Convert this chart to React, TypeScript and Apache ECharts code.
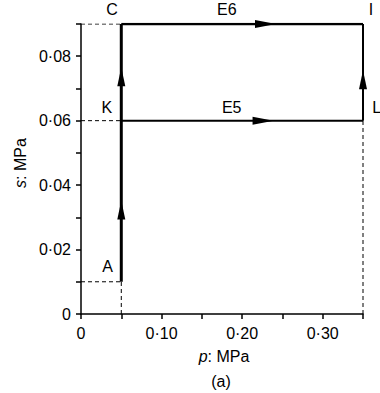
import React, { useEffect, useRef } from "react";
import * as echarts from "echarts";

// Path segments (p, s) in MPa
const pathAC = [[0.05, 0.01], [0.05, 0.09]];
const pathE5 = [[0.05, 0.06], [0.35, 0.06]];
const pathE6 = [[0.05, 0.09], [0.35, 0.09]];
const pathLI = [[0.35, 0.06], [0.35, 0.09]];

// Dashed guide lines
const dashedSegments = [
  [[0, 0.09], [0.05, 0.09]],
  [[0, 0.06], [0.05, 0.06]],
  [[0, 0.01], [0.05, 0.01]],
  [[0.05, 0], [0.05, 0.01]],
  [[0.35, 0], [0.35, 0.06]],
];

// Arrow heads
const arrowsUp = [[0.05, 0.0323], [0.05, 0.0736], [0.35, 0.0727]];
const arrowsRight = [[0.229, 0.09], [0.226, 0.06]];

// Point labels
const pointLabels = [
  { name: "C", value: [0.0385, 0.0945] },
  { name: "K", value: [0.032, 0.0641] },
  { name: "A", value: [0.033, 0.0146] },
  { name: "E6", value: [0.181, 0.0945] },
  { name: "E5", value: [0.187, 0.0641] },
  { name: "I", value: [0.36, 0.0945] },
  { name: "L", value: [0.367, 0.0641] },
];

const FONT = "'Liberation Sans', Arial, Helvetica, sans-serif";
const INK = "#000";

const fmt = (v: number) => {
  if (Math.abs(v) < 1e-9) return "0";
  return v.toFixed(2).replace(".", "·");
};

export default function App() {
  const ref = useRef<HTMLDivElement>(null);
  useEffect(() => {
    if (!ref.current) return;
    const chart = echarts.init(ref.current, null, { renderer: "svg" });
    const solid = (data: number[][], width: number) => ({
      type: "line",
      data,
      symbol: "none",
      lineStyle: { color: INK, width, type: "solid" },
      silent: true,
      z: 3,
    });
    chart.setOption({
      animation: false,
      backgroundColor: "#fff",
      grid: { left: 81, right: 17, top: 24, bottom: 79 },
      xAxis: {
        type: "value",
        min: 0,
        max: 0.35,
        interval: 0.05,
        splitLine: { show: false },
        axisLine: { show: true, lineStyle: { color: INK, width: 1.5 } },
        axisTick: { show: true, length: 5, lineStyle: { color: INK, width: 1.5 } },
        axisLabel: {
          margin: 11,
          fontFamily: FONT,
          fontSize: 16,
          color: INK,
          formatter: (v: number) => {
            const k = Math.round(v * 100);
            return k % 10 === 0 && k <= 30 ? fmt(v) : "";
          },
        },
      },
      yAxis: {
        type: "value",
        min: 0,
        max: 0.09,
        interval: 0.01,
        splitLine: { show: false },
        axisLine: { show: true, lineStyle: { color: INK, width: 1.5 } },
        axisTick: { show: true, length: 5, lineStyle: { color: INK, width: 1.5 } },
        axisLabel: {
          margin: 10,
          fontFamily: FONT,
          fontSize: 16,
          color: INK,
          formatter: (v: number) => {
            const k = Math.round(v * 100);
            return k % 2 === 0 && k <= 8 ? fmt(v) : "";
          },
        },
      },
      series: [
        ...dashedSegments.map((seg) => ({
          type: "line",
          data: seg,
          symbol: "none",
          silent: true,
          lineStyle: { color: INK, width: 1, type: [4, 3] },
          z: 2,
        })),
        solid(pathAC, 3),
        solid(pathE5, 2),
        solid(pathE6, 2.5),
        solid(pathLI, 2),
        {
          type: "scatter",
          data: arrowsUp,
          symbol: "triangle",
          symbolSize: [8, 19],
          itemStyle: { color: INK, opacity: 1 },
          silent: true,
          z: 4,
        },
        {
          type: "scatter",
          data: arrowsRight,
          symbol: "triangle",
          symbolSize: [8, 21],
          symbolRotate: -90,
          itemStyle: { color: INK, opacity: 1 },
          silent: true,
          z: 4,
        },
        {
          type: "scatter",
          data: pointLabels,
          symbolSize: 0,
          clip: false,
          silent: true,
          itemStyle: { opacity: 1 },
          label: {
            show: true,
            position: "inside",
            formatter: "{b}",
            fontFamily: FONT,
            fontSize: 16,
            color: INK,
            opacity: 1,
          },
          z: 5,
        },
      ],
      graphic: [
        {
          type: "text",
          x: 20,
          y: 163,
          rotation: Math.PI / 2,
          style: {
            text: "{i|s}: MPa",
            rich: { i: { fontStyle: "italic", fontFamily: FONT, fontSize: 16, fill: INK } },
            fontFamily: FONT,
            fontSize: 16,
            fill: INK,
            align: "center",
            verticalAlign: "middle",
          },
        },
        {
          type: "text",
          x: 224,
          y: 356,
          style: {
            text: "{i|p}: MPa",
            rich: { i: { fontStyle: "italic", fontFamily: FONT, fontSize: 16, fill: INK } },
            fontFamily: FONT,
            fontSize: 16,
            fill: INK,
            align: "center",
            verticalAlign: "middle",
          },
        },
        {
          type: "text",
          x: 221,
          y: 381,
          style: {
            text: "(a)",
            fontFamily: FONT,
            fontSize: 16,
            fill: INK,
            align: "center",
            verticalAlign: "middle",
          },
        },
      ],
    });
    return () => chart.dispose();
  }, []);
  return <div ref={ref} style={{ width: 380, height: 393, position: "absolute", left: 0, top: 0 }} />;
}
